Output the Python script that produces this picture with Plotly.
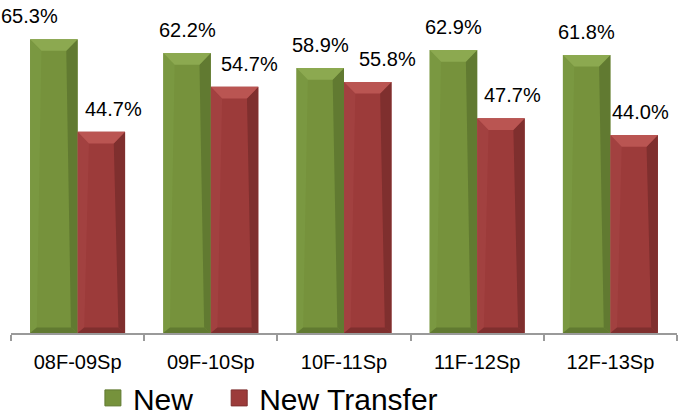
import plotly.graph_objects as go

# Retention rates by cohort
categories = ["08F-09Sp", "09F-10Sp", "10F-11Sp", "11F-12Sp", "12F-13Sp"]
new_students = [65.3, 62.2, 58.9, 62.9, 61.8]
new_transfer = [44.7, 54.7, 55.8, 47.7, 44.0]

series = [
    # name, values, face, top bevel, left edge, right edge, label x-offsets (px), legend
    ("New", new_students, "#76923C", "#8CA950", "#7A9841", "#617A31", [-24, 0, 0, 0, 0], "legend"),
    ("New Transfer", new_transfer, "#9C3B3A", "#BA5552", "#A24140", "#7F2F2E", [12, 15, 20, 12, 6], "legend2"),
]

BARGAP = 0.287
half = (1 - BARGAP) / 2          # width of one bar in category units
DX = 0.085                       # top bevel inset, category units
DY = 2.6                         # top bevel inset, value units
DXR = 0.05                       # side strip width, category units
DYB = 1.2                        # bottom strip height, value units

fig = go.Figure()
shapes = []
annotations = []


def poly(pts, color):
    path = "M " + " L ".join(f"{px},{py}" for px, py in pts) + " Z"
    shapes.append(dict(type="path", path=path, xref="x", yref="y",
                       fillcolor=color, line=dict(width=0), layer="above"))


for k, (name, vals, face, light, left, dark, offs, leg) in enumerate(series):
    fig.add_trace(go.Bar(
        x=categories, y=vals, name=name, showlegend=False,
        marker=dict(color=face, line=dict(width=0)),
        hoverinfo="x+y",
    ))
    # legend swatch
    fig.add_trace(go.Scatter(
        x=[None], y=[None], mode="markers", name=name, legend=leg,
        marker=dict(symbol="square", size=16, color=face,
                    line=dict(color=dark, width=1)),
    ))
    for i, v in enumerate(vals):
        x0 = i - half + k * half
        x1 = x0 + half
        # left edge
        poly([(x0, v), (x0 + DX, v - DY), (x0 + DXR, DYB), (x0, 0)], left)
        # right edge
        poly([(x1, v), (x1, 0), (x1 - DXR, DYB), (x1 - DX, v - DY)], dark)
        # bottom edge
        poly([(x0, 0), (x0 + DXR, DYB), (x1 - DXR, DYB), (x1, 0)], dark)
        # top bevel
        poly([(x0, v), (x1, v), (x1 - DX, v - DY), (x0 + DX, v - DY)], light)
        annotations.append(dict(
            x=(x0 + x1) / 2, y=v, xref="x", yref="y",
            text=f"{v:.1f}%", showarrow=False,
            xanchor="center", yanchor="middle",
            xshift=offs[i], yshift=23,
            font=dict(size=20, color="#000000", family="Liberation Sans, Arial"),
        ))

legend_style = dict(
    orientation="h", xanchor="left", y=-0.1235, yanchor="top",
    font=dict(size=30, color="#000000"),
    bgcolor="rgba(0,0,0,0)", itemwidth=30,
)

fig.update_layout(
    width=682, height=415,
    margin=dict(l=11, r=5, t=18, b=82, autoexpand=False),
    paper_bgcolor="white", plot_bgcolor="white",
    barmode="group", bargap=BARGAP, bargroupgap=0,
    font=dict(family="Liberation Sans, Arial", color="#000000"),
    shapes=shapes, annotations=annotations,
    xaxis=dict(
        type="category", range=[-0.5, 4.5],
        showline=True, linecolor="#9A9A9A", linewidth=2,
        ticks="outside", tickson="boundaries", ticklen=6,
        tickcolor="#9A9A9A", tickwidth=2,
        showgrid=False, zeroline=False,
        tickfont=dict(size=20, color="#000000"),
        ticklabelstandoff=10,
    ),
    yaxis=dict(visible=False, range=[0, 70], showgrid=False, zeroline=False),
    legend=dict(x=0.123, **legend_style),
    legend2=dict(x=0.3126, **legend_style),
)

fig.write_html("out.html")
